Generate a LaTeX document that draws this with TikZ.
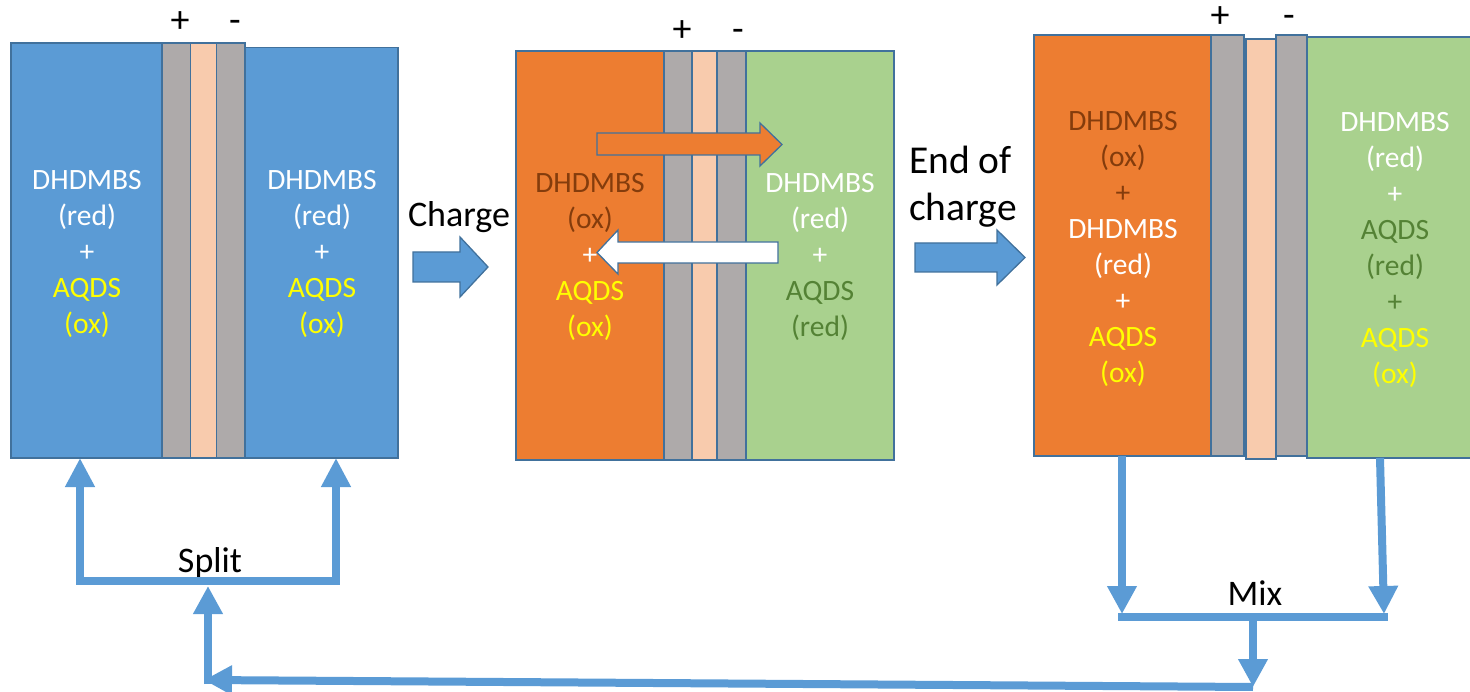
\documentclass[tikz,border=0pt]{standalone}
\usepackage{fontspec}
\setmainfont{Carlito}
\usetikzlibrary{arrows.meta}
\definecolor{bluef}{HTML}{5B9BD5}
\definecolor{bordc}{HTML}{41719C}
\definecolor{grayf}{HTML}{AEAAAA}
\definecolor{peachf}{HTML}{F8CBAD}
\definecolor{orangef}{HTML}{ED7D31}
\definecolor{greenf}{HTML}{A9D18E}
\definecolor{brownt}{HTML}{843C0C}
\definecolor{dgreent}{HTML}{548235}
\definecolor{yellowt}{HTML}{FFFF00}
\begin{document}
\begin{tikzpicture}[x=1pt,y=-1pt,
 cellbox/.style={draw=bordc, line width=1.3pt, inner sep=0pt, outer sep=0pt, anchor=north west},
 celltext/.style={align=center, font=\fontsize{29.5}{36}\selectfont, inner sep=0pt},
 lbl/.style={font=\fontsize{36}{46}\selectfont, inner sep=0pt},
 pm/.style={font=\fontsize{38}{40}\selectfont, inner sep=0pt},
 conn/.style={draw=bluef, line width=8pt, line join=miter},
 tip/.style={-{Triangle[width=28pt,length=28pt]}},
 blockarrow/.style={draw=bordc, line width=1.3pt, line join=miter}
]
\useasboundingbox (0,0) rectangle (1470,692);
% ---------- cell 1 ----------
\node[cellbox, fill=bluef, minimum width=151pt, minimum height=415pt] (aL) at (11,43) {};
\node[cellbox, fill=grayf, minimum width=28.5pt, minimum height=415pt] (ag1) at (162,43) {};
\node[cellbox, fill=peachf, minimum width=26pt, minimum height=415pt] (ap) at (190.5,43) {};
\node[cellbox, fill=grayf, minimum width=28.5pt, minimum height=415pt] (ag2) at (216.5,43) {};
\node[cellbox, fill=bluef, minimum width=153pt, minimum height=410.5pt] (aR) at (245,47.5) {};
\node[pm] (aplus) at (180,22) {+};
\node[pm] (aminus) at (235,22) {\vphantom{+}-};
% ---------- cell 2 ----------
\node[cellbox, fill=orangef, minimum width=148pt, minimum height=409pt] (bL) at (516,51) {};
\node[cellbox, fill=grayf, minimum width=28pt, minimum height=409pt] (bg1) at (664,51) {};
\node[cellbox, fill=peachf, minimum width=25pt, minimum height=409pt] (bp) at (692,51) {};
\node[cellbox, fill=grayf, minimum width=29pt, minimum height=409pt] (bg2) at (717,51) {};
\node[cellbox, fill=greenf, minimum width=148pt, minimum height=409pt] (bR) at (746,51) {};
\node[pm] (bplus) at (682,31) {+};
\node[pm] (bminus) at (738,31) {\vphantom{+}-};
% ---------- cell 3 ----------
\node[cellbox, fill=orangef, minimum width=177pt, minimum height=421pt] (cL) at (1034,35) {};
\node[cellbox, fill=grayf, minimum width=33pt, minimum height=421pt] (cg1) at (1211,35) {};
\node[cellbox, fill=peachf, minimum width=30pt, minimum height=420pt] (cp) at (1246,39) {};
\node[cellbox, fill=grayf, minimum width=31pt, minimum height=421pt] (cg2) at (1276,35) {};
\node[cellbox, fill=greenf, minimum width=180pt, minimum height=421pt] (cR) at (1307,37) {};
\node[pm] (cplus) at (1220,17) {+};
\node[pm] (cminus) at (1289,17) {\vphantom{+}-};
% ---------- arrows inside cell 2 ----------
\fill[orangef] (597,133) -- (760,133) -- (760,123) -- (782,144.5) -- (760,166) -- (760,155) -- (597,155) -- cycle;
\draw[blockarrow] (597,133) -- (760,133) -- (760,123) -- (782,144.5) -- (760,166) -- (760,155) -- (597,155) -- cycle;
\filldraw[blockarrow, fill=white] (778,242) -- (618,242) -- (618,230) -- (597,252.5) -- (618,274) -- (618,263) -- (778,263) -- cycle;
% ---------- block arrows between cells ----------
\filldraw[blockarrow, fill=bluef] (413,252) -- (460,252) -- (460,237) -- (488,267) -- (460,297) -- (460,282) -- (413,282) -- cycle;
\filldraw[blockarrow, fill=bluef] (915,243) -- (997,243) -- (997,230) -- (1025,257.5) -- (997,285) -- (997,272) -- (915,272) -- cycle;
\node[lbl] (charge) at (459,217) {Charge};
\node[lbl, font=\fontsize{39.5}{47}\selectfont, align=left, anchor=west] (endc) at (909,187) {End of\\charge};
% ---------- cell texts ----------
\node[celltext, text=white] (taL) at (87,254) {DHDMBS\\(red)\\+\\\textcolor{yellowt}{AQDS}\\\textcolor{yellowt}{(ox)}};
\node[celltext, text=white] (taR) at (322,254) {DHDMBS\\(red)\\+\\\textcolor{yellowt}{AQDS}\\\textcolor{yellowt}{(ox)}};
\node[celltext, text=white] (tbL) at (590,256.5) {\textcolor{brownt}{DHDMBS}\\\textcolor{brownt}{(ox)}\\+\\\textcolor{yellowt}{AQDS}\\\textcolor{yellowt}{(ox)}};
\node[celltext, text=white] (tbR) at (820,256.5) {DHDMBS\\(red)\\+\\\textcolor{dgreent}{AQDS}\\\textcolor{dgreent}{(red)}};
\node[celltext, text=white] (tcL) at (1123,248.5) {\textcolor{brownt}{DHDMBS}\\\textcolor{brownt}{(ox)}\\\textcolor{brownt}{+}\\DHDMBS\\(red)\\+\\\textcolor{yellowt}{AQDS}\\\textcolor{yellowt}{(ox)}};
\node[celltext, text=white] (tcR) at (1395,250) {DHDMBS\\(red)\\+\\\textcolor{dgreent}{AQDS}\\\textcolor{dgreent}{(red)}\\\textcolor{dgreent}{+}\\\textcolor{yellowt}{AQDS}\\\textcolor{yellowt}{(ox)}};
% ---------- split / mix connectors ----------
\node[lbl] (split) at (210,563) {Split};
\node[lbl] (mix) at (1255,593) {Mix};
\coordinate (sA) at (80,458);
\coordinate (sB) at (336,458);
\coordinate (sJ) at (208,586);
\coordinate (sL) at (208,683);
\coordinate (mA) at (1122,456);
\coordinate (mB) at (1380,458);
\coordinate (mJ) at (1253,617);
\coordinate (mD) at (1253,687);
\draw[conn, {Triangle[width=28pt,length=29pt]}-{Triangle[width=28pt,length=29pt]}] (sA) -- (80,581) -- (336,581) -- (sB);
\draw[conn] (1118,617) -- (1388,617);
\draw[conn, tip] (mA) -- (1122,614);
\draw[conn, tip] (mB) -- (1384,614);
\draw[conn, tip] (mJ) -- (mD);
\draw[conn, tip] (1253,687) -- (204,680);
\draw[conn, tip] (208,684) -- (sJ);
\end{tikzpicture}
\end{document}
